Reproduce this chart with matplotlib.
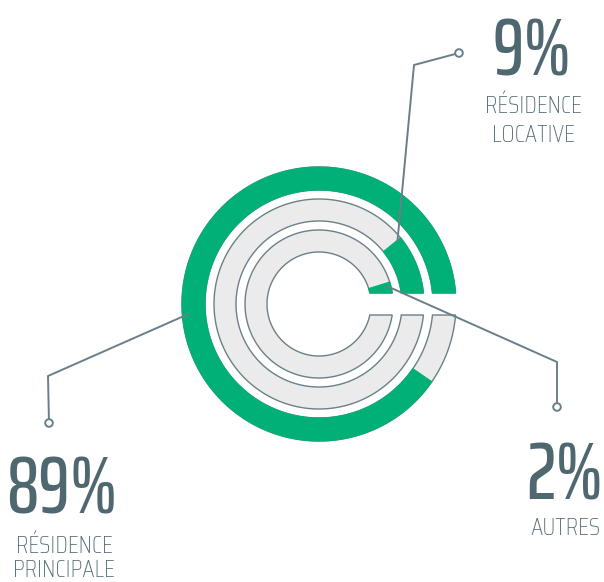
import numpy as np
import matplotlib
matplotlib.use('Agg')
import matplotlib.pyplot as plt
from matplotlib.patches import Polygon, Circle

# data
labels = ['RÉSIDENCE\nPRINCIPALE', 'RÉSIDENCE\nLOCATIVE', 'AUTRES']
values = [89, 9, 2]

green = '#00b077'
track = '#ebebeb'
edge = '#6b8088'
ink = '#4f6870'
num_font = 'Saira ExtraCondensed'
lab_font = 'Saira Condensed'

W, H = 604, 582
cx, cy = 319, H - 304
radii = [(114, 137), (83, 105), (52, 74)]   # outer, middle, inner ring
h = 11                                      # half height of the cut at 3 o'clock

# label layout (pixels from top-left): text centre x, number baseline, leader elbow, leader end
lay = [
    dict(tx=62, ty=513, lx=64, ly=[553, 577], pa=184.4, pr=131, elbow=(48, 376), end=(49, 423)),
    dict(tx=532, ty=75, lx=533, ly=[113, 142], pa=38.4, pr=100, elbow=(414, 65), end=(459, 53)),
    dict(tx=565, ty=500, lx=565, ly=[535], pa=14.9, pr=70, elbow=(557, 362), end=(557, 407)),
]


def arc(r, a0, a1, n=200):
    t = np.radians(np.linspace(a0, a1, n))
    return np.column_stack([cx + r * np.cos(t), cy + r * np.sin(t)])


fig = plt.figure(figsize=(W / 100, H / 100), dpi=100)
ax = fig.add_axes([0, 0, 1, 1])
ax.set_xlim(0, W)
ax.set_ylim(0, H)
ax.set_aspect('equal')
ax.axis('off')

for (r1, r2), v in zip(radii, values):
    ai = np.degrees(np.arcsin(h / r1))
    ao = np.degrees(np.arcsin(h / r2))
    pts = np.vstack([arc(r2, ao, 360 - ao), arc(r1, 360 - ai, ai)])
    ax.add_patch(Polygon(pts, closed=True, fc=track, ec=edge, lw=1.0, zorder=1))
    start = np.degrees(np.arcsin(h / ((r1 + r2) / 2)))
    end = start + v * 3.6
    pts = np.vstack([arc(r2, ao, end), arc(r1, end, ai)])
    ax.add_patch(Polygon(pts, closed=True, fc=green, ec=green, lw=0.8, zorder=2))

for lab, v, L in zip(labels, values, lay):
    t = np.radians(L['pa'])
    p0 = (cx + L['pr'] * np.cos(t), cy + L['pr'] * np.sin(t))
    ex, ey = L['elbow']
    qx, qy = L['end']
    xs = [p0[0], ex, qx]
    ys = [p0[1], H - ey, H - qy]
    ax.plot(xs, ys, color='#6a7f87', lw=1.4, zorder=3, solid_capstyle='butt')
    ax.add_patch(Circle((qx, H - qy), 3.8, fc='white', ec='#6a7f87', lw=1.4, zorder=4))
    ax.text(L['tx'], H - L['ty'], '%d%%' % v, ha='center', va='baseline', color=ink,
            family=num_font, fontsize=58, fontweight='medium')
    for line, yy in zip(lab.split('\n'), L['ly']):
        ax.text(L['lx'], H - yy, line, ha='center', va='baseline', color=ink,
                family=lab_font, fontsize=18, fontweight='light')

fig.savefig('out.png', dpi=100)
